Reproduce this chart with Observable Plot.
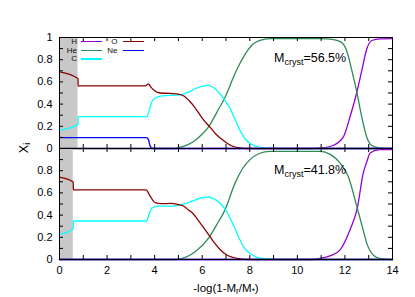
<!DOCTYPE html>
<html><head><meta charset="utf-8">
<script src="https://cdn.jsdelivr.net/npm/d3@7"></script>
<script src="https://cdn.jsdelivr.net/npm/@observablehq/plot@0.6"></script>
<style>
body{margin:0;background:#fff;}
#c{position:relative;width:415px;height:297px;font-family:"Liberation Sans",Arial,sans-serif;color:#000;overflow:hidden;}
#c svg{position:absolute;left:0;overflow:visible;}
.t{position:absolute;white-space:nowrap;line-height:1;}
.lg{position:absolute;font-size:8px;line-height:8px;height:8px;text-align:right;width:20px;color:#111;z-index:2;}
.ln{position:absolute;height:0;border-top-style:solid;z-index:2;}
sub{font-size:0.72em;vertical-align:-0.3em;line-height:0;}
</style></head><body><div id="c"></div>
<script>
// ---------- data ----------
const seriesNames = ["H", "He", "C", "O", "Ne"];
const seriesColors = ["#9400d3", "#2e8b57", "#00ffff", "#8b0000", "#0000ff"];
const xLabelTicks = [0, 2, 4, 6, 8, 10, 12, 14];
const xTickMarks = [0,1,2,3,4,5,6,7,8,9,10,11,12,13,14];
const yLabelsTop = [0, 0.2, 0.4, 0.6, 0.8, 1];
const yLabelsBottom = [0, 0.2, 0.4, 0.6, 0.8];
const yTickMarks = [0,0.1,0.2,0.3,0.4,0.5,0.6,0.7,0.8,0.9,1];
const grayEdgeTop = 0.78;
const grayEdgeBottom = 0.58;
const mcrystTop = "56.5%";
const mcrystBottom = "41.8%";

// top panel
const topH  = [[0,0],[10.5,0],[11.0,0.005],[11.5,0.027],[11.93,0.102],[12.21,0.282],[12.5,0.507],[12.71,0.703],[12.92,0.898],[13.13,0.973],[13.47,0.988],[14,0.99]];
const topHe = [[0,0],[4.8,0],[5.07,0.012],[5.4,0.035],[5.7,0.072],[6.0,0.13],[6.26,0.192],[6.5,0.28],[6.7,0.36],[6.9,0.435],[7.1,0.53],[7.31,0.642],[7.5,0.73],[7.73,0.823],[7.95,0.895],[8.15,0.943],[8.43,0.975],[8.85,0.99],[11.0,0.99],[11.4,0.985],[11.79,0.965],[12.07,0.883],[12.29,0.703],[12.5,0.507],[12.71,0.282],[12.92,0.102],[13.13,0.027],[13.47,0.005],[14,0]];
const topC  = [[0,0.165],[0.78,0.215],[0.781,0.288],[3.68,0.288],[3.78,0.35],[3.9,0.43],[4.09,0.462],[4.44,0.477],[4.9,0.48],[5.21,0.49],[5.45,0.51],[5.7,0.538],[6.0,0.562],[6.26,0.568],[6.5,0.545],[6.75,0.493],[6.96,0.432],[7.15,0.37],[7.31,0.297],[7.45,0.23],[7.59,0.162],[7.73,0.11],[7.87,0.072],[8.05,0.04],[8.29,0.018],[8.7,0.003],[9.2,0],[14,0]];
const topO  = [[0,0.69],[0.78,0.63],[0.781,0.565],[3.62,0.565],[3.74,0.582],[3.85,0.55],[4.0,0.52],[4.23,0.50],[4.65,0.496],[5.0,0.49],[5.25,0.47],[5.45,0.43],[5.63,0.387],[5.85,0.32],[6.05,0.26],[6.33,0.192],[6.55,0.135],[6.75,0.096],[7.03,0.05],[7.31,0.018],[7.6,0.005],[7.9,0],[14,0]];
const topNe = [[0,0.098],[3.66,0.098],[3.74,0.08],[3.8,0.03],[3.88,0.003],[4.0,0],[14,0]];

// bottom panel
const botH  = [[0,0],[10.5,0],[10.95,0.009],[11.4,0.035],[11.79,0.084],[12.21,0.265],[12.52,0.462],[12.77,0.779],[12.92,0.88],[13.06,0.96],[13.47,0.99],[14,0.99]];
const botHe = [[0,0],[4.8,0],[5.07,0.005],[5.7,0.069],[6.26,0.19],[6.6,0.31],[6.96,0.447],[7.38,0.688],[7.7,0.82],[8.01,0.9],[8.4,0.955],[8.85,0.975],[10.95,0.975],[11.4,0.945],[11.79,0.87],[12.14,0.748],[12.52,0.462],[12.75,0.28],[12.92,0.145],[13.2,0.039],[13.5,0.008],[14,0]];
const botC  = [[0,0.226],[0.58,0.278],[0.581,0.347],[3.66,0.347],[3.78,0.42],[3.88,0.462],[4.16,0.48],[4.65,0.48],[5.0,0.49],[5.35,0.507],[5.7,0.535],[6.05,0.56],[6.26,0.563],[6.5,0.545],[6.75,0.507],[7.03,0.431],[7.31,0.311],[7.59,0.175],[7.8,0.095],[8.01,0.054],[8.3,0.02],[8.57,0.009],[9.0,0],[14,0]];
const botO  = [[0,0.742],[0.58,0.697],[0.581,0.628],[3.64,0.628],[3.8,0.575],[4.02,0.513],[4.3,0.503],[4.65,0.505],[5.0,0.495],[5.21,0.482],[5.42,0.447],[5.63,0.41],[5.77,0.371],[6.05,0.29],[6.33,0.205],[6.55,0.14],[6.75,0.09],[7.0,0.045],[7.31,0.018],[7.6,0.005],[8.0,0],[14,0]];
const botNe = [[0,0],[14,0]];

// ---------- build ----------
function rows(list) {
  const out = [];
  list.forEach((pts, i) => pts.forEach(([x, y]) => out.push({series: seriesNames[i], x, y})));
  return out;
}
const topRows = rows([topH, topHe, topC, topO, topNe]);
const botRows = rows([botH, botHe, botC, botO, botNe]);

const W = 415, ML = 59, MR = 23, FW = W - ML - MR;
const font = '"Liberation Sans", Arial, sans-serif';

function panel({data, gray, top, height, marginTop, marginBottom, yLabels, showX}) {
  const FH = height - marginTop - marginBottom;
  const marks = [
    Plot.rect([{x1: 0, x2: gray}], {x1: "x1", x2: "x2", fill: "#c8c8c8"}),
    Plot.line(data, {x: "x", y: "y", z: "series", stroke: "series", strokeWidth: 1.3, curve: "monotone-x"}),
    Plot.ruleX(xTickMarks, {x: d => d, insetTop: FH - 4, stroke: "black"}),
    Plot.ruleX(xTickMarks, {x: d => d, insetBottom: FH - 4, stroke: "black"}),
    Plot.ruleY(yTickMarks, {y: d => d, insetRight: FW - 4, stroke: "black"}),
    Plot.ruleY(yTickMarks, {y: d => d, insetLeft: FW - 4, stroke: "black"}),
    Plot.frame({stroke: "black", strokeWidth: 1}),
    Plot.axisY(yLabels, {tickSize: 0, tickPadding: 7, tickFormat: d => String(d), fontSize: 11, label: null})
  ];
  if (showX) marks.push(Plot.axisX(xLabelTicks, {tickSize: 0, tickPadding: 7, tickFormat: d => String(d), fontSize: 11, label: null}));
  const svg = Plot.plot({
    width: W, height, marginLeft: ML, marginRight: MR, marginTop, marginBottom,
    style: {fontFamily: font, fontSize: "11px", color: "#000", background: "transparent"},
    x: {domain: [0, 14], axis: null},
    y: {domain: [0, 1], axis: null},
    color: {domain: seriesNames, range: seriesColors},
    marks
  });
  svg.style.top = top + "px";
  return svg;
}

const c = document.getElementById("c");
c.appendChild(panel({data: topRows, gray: grayEdgeTop, top: 0, height: 150, marginTop: 37, marginBottom: 2, yLabels: yLabelsTop, showX: false}));
c.appendChild(panel({data: botRows, gray: grayEdgeBottom, top: 147, height: 150, marginTop: 1, marginBottom: 38, yLabels: yLabelsBottom, showX: true}));

function addText(html, left, top, size, extra) {
  const d = document.createElement("div");
  d.className = "t";
  d.innerHTML = html;
  d.style.left = left + "px"; d.style.top = top + "px"; d.style.fontSize = size + "px";
  if (extra) Object.assign(d.style, extra);
  c.appendChild(d);
  return d;
}
addText("M<sub>cryst</sub>=" + mcrystTop, 274, 52, 12.5);
addText("M<sub>cryst</sub>=" + mcrystBottom, 274, 164, 12.5);
addText("-log(1-M<sub>r</sub>/M<sub>*</sub>)", 226, 283, 11.5, {transform: "translateX(-50%)"});
addText("X<sub>i</sub>", 24, 148, 12.5, {transform: "translate(-50%,-50%) rotate(-90deg)"});

// legend
const legendPos = [
  {col: 0, row: 0}, {col: 0, row: 1}, {col: 0, row: 2}, {col: 1, row: 0}, {col: 1, row: 1}
];
seriesNames.forEach((name, i) => {
  const p = legendPos[i];
  const tx = p.col === 0 ? 57 : 97.5;
  const lx = p.col === 0 ? 81 : 123;
  const cy = 42 + p.row * 8.5;
  const t = document.createElement("div");
  t.className = "lg"; t.textContent = name;
  t.style.left = tx + "px"; t.style.top = (cy - 4) + "px";
  c.appendChild(t);
  const l = document.createElement("div");
  l.className = "ln";
  const w = name === "C" ? 2 : 1.5;
  l.style.left = lx + "px"; l.style.width = "21px"; l.style.top = (cy - w / 2) + "px";
  l.style.borderTopWidth = w + "px"; l.style.borderTopColor = seriesColors[i];
  c.appendChild(l);
});
</script>
</body></html>
